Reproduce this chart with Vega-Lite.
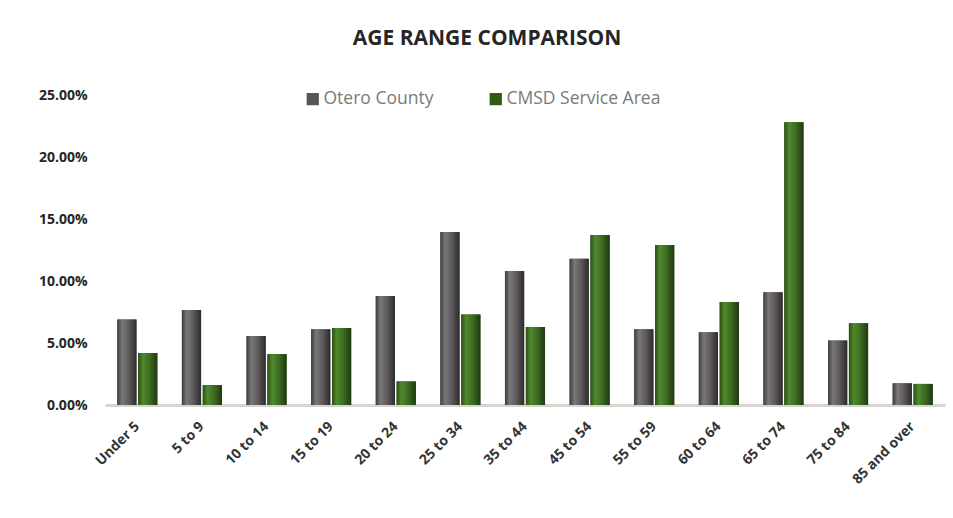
{
  "$schema": "https://vega.github.io/schema/vega-lite/v6.json",
  "width": 840,
  "height": 310,
  "autosize": {"type": "none"},
  "padding": {"left": 105, "top": 95, "right": 8, "bottom": 113},
  "background": "white",
  "title": {
    "text": "AGE RANGE COMPARISON",
    "font": "Open Sans",
    "fontSize": 21,
    "fontWeight": "bold",
    "color": "#262626",
    "anchor": "middle",
    "dx": -38,
    "offset": 39
  },
  "data": {
    "values": [
      {"age": "Under 5", "series": "Otero County", "pct": 0.069},
      {"age": "Under 5", "series": "CMSD Service Area", "pct": 0.042},
      {"age": "5 to 9", "series": "Otero County", "pct": 0.0766},
      {"age": "5 to 9", "series": "CMSD Service Area", "pct": 0.016},
      {"age": "10 to 14", "series": "Otero County", "pct": 0.0556},
      {"age": "10 to 14", "series": "CMSD Service Area", "pct": 0.041},
      {"age": "15 to 19", "series": "Otero County", "pct": 0.061},
      {"age": "15 to 19", "series": "CMSD Service Area", "pct": 0.062},
      {"age": "20 to 24", "series": "Otero County", "pct": 0.088},
      {"age": "20 to 24", "series": "CMSD Service Area", "pct": 0.019},
      {"age": "25 to 34", "series": "Otero County", "pct": 0.1395},
      {"age": "25 to 34", "series": "CMSD Service Area", "pct": 0.073},
      {"age": "35 to 44", "series": "Otero County", "pct": 0.108},
      {"age": "35 to 44", "series": "CMSD Service Area", "pct": 0.063},
      {"age": "45 to 54", "series": "Otero County", "pct": 0.118},
      {"age": "45 to 54", "series": "CMSD Service Area", "pct": 0.137},
      {"age": "55 to 59", "series": "Otero County", "pct": 0.061},
      {"age": "55 to 59", "series": "CMSD Service Area", "pct": 0.129},
      {"age": "60 to 64", "series": "Otero County", "pct": 0.0586},
      {"age": "60 to 64", "series": "CMSD Service Area", "pct": 0.083},
      {"age": "65 to 74", "series": "Otero County", "pct": 0.091},
      {"age": "65 to 74", "series": "CMSD Service Area", "pct": 0.228},
      {"age": "75 to 84", "series": "Otero County", "pct": 0.052},
      {"age": "75 to 84", "series": "CMSD Service Area", "pct": 0.066},
      {"age": "85 and over", "series": "Otero County", "pct": 0.0175},
      {"age": "85 and over", "series": "CMSD Service Area", "pct": 0.017}
    ]
  },
  "encoding": {
    "x": {
      "field": "age",
      "type": "nominal",
      "sort": null,
      "title": null,
      "scale": {"paddingInner": 0.38, "paddingOuter": 0.19},
      "axis": {
        "labelAngle": -45,
        "labelAlign": "right",
        "labelBaseline": "middle",
        "labelFont": "Open Sans",
        "labelFontWeight": "bold",
        "labelFontSize": 14,
        "labelColor": "#333333",
        "labelPadding": 19,
        "ticks": false,
        "domainColor": "#d6d5d1",
        "domainWidth": 3,
        "grid": false
      }
    },
    "xOffset": {
      "field": "series",
      "type": "nominal",
      "sort": ["Otero County", "CMSD Service Area"],
      "scale": {"paddingInner": 0.08}
    },
    "y": {
      "field": "pct",
      "type": "quantitative",
      "title": null,
      "scale": {"domain": [0, 0.25]},
      "axis": {
        "format": ".2%",
        "values": [0, 0.05, 0.1, 0.15, 0.2, 0.25],
        "labelFont": "Open Sans",
        "labelFontWeight": "bold",
        "labelFontSize": 14,
        "labelColor": "#262626",
        "labelPadding": 18,
        "ticks": false,
        "domain": false,
        "grid": false
      }
    }
  },
  "layer": [
    {
      "mark": {"type": "bar"},
      "encoding": {
        "color": {
          "field": "series",
          "type": "nominal",
          "sort": ["Otero County", "CMSD Service Area"],
          "scale": {"domain": ["Otero County", "CMSD Service Area"], "range": ["#59555a", "#2f5a18"]},
          "legend": {
            "title": null,
            "orient": "none",
            "legendX": 199,
            "legendY": -5,
            "direction": "horizontal",
            "symbolType": "square",
            "symbolSize": 150,
            "symbolStrokeWidth": 0,
            "labelFont": "Open Sans",
            "labelFontSize": 17.5,
            "labelColor": "#7a7a7a",
            "labelOffset": 2,
            "columnPadding": 53
          }
        }
      }
    },
    {
      "mark": {"type": "bar"},
      "encoding": {
        "fill": {
          "condition": {
            "test": "datum.series === 'Otero County'",
            "value": {"gradient": "linear", "x1": 0, "x2": 1, "y1": 0, "y2": 0, "stops": [
              {"offset": 0, "color": "#3e3b3d"},
              {"offset": 0.25, "color": "#7b7679"},
              {"offset": 0.6, "color": "#5e5a5c"},
              {"offset": 1, "color": "#2c2a2b"}
            ]}
          },
          "value": {"gradient": "linear", "x1": 0, "x2": 1, "y1": 0, "y2": 0, "stops": [
            {"offset": 0, "color": "#2c4f17"},
            {"offset": 0.25, "color": "#4f8a2c"},
            {"offset": 0.6, "color": "#3d6b22"},
            {"offset": 1, "color": "#1e3810"}
          ]}
        }
      }
    }
  ],
  "config": {"view": {"stroke": null}}
}
